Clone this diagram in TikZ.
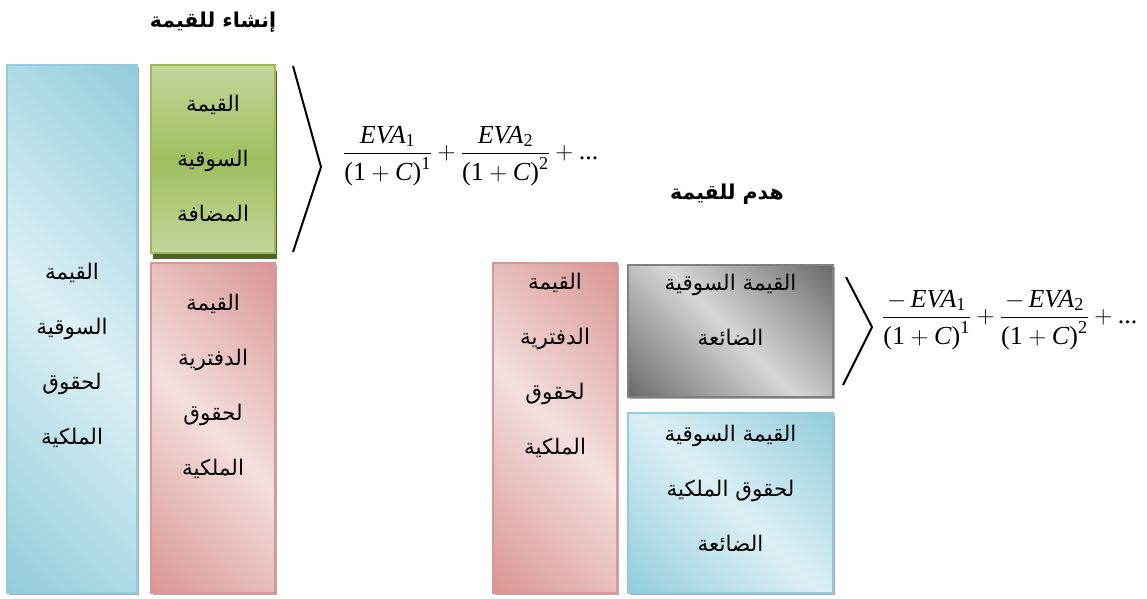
\documentclass[tikz,border=0pt]{standalone}
\usepackage{amsmath}
\usepackage{fontspec}
\setmainfont{Liberation Serif}
\newfontfamily\arabicfont[Script=Arabic]{DejaVu Sans}
\TeXXeTstate=1
\usetikzlibrary{shadows}

% palette
\definecolor{aquaL}{HTML}{DCEFF4}
\definecolor{aquaD}{HTML}{92CDDC}
\definecolor{aquaB}{HTML}{93CDDD}
\definecolor{roseL}{HTML}{F3DEDE}
\definecolor{roseD}{HTML}{D99694}
\definecolor{roseB}{HTML}{D99694}
\definecolor{greyL}{HTML}{D6D6D6}
\definecolor{greyD}{HTML}{6B6B6B}
\definecolor{greyB}{HTML}{808080}
\definecolor{leafL}{HTML}{C3D69B}
\definecolor{leafM}{HTML}{9FBE5E}
\definecolor{leafB}{HTML}{9BBB59}
\definecolor{leafS}{HTML}{4F6228}

% diagonal dark-light-dark fills
\pgfdeclarehorizontalshading{aquadiag}{100bp}{color(0bp)=(aquaD); color(15bp)=(aquaD); color(50bp)=(aquaL); color(85bp)=(aquaD); color(100bp)=(aquaD)}
\pgfdeclarehorizontalshading{rosediag}{100bp}{color(0bp)=(roseD); color(15bp)=(roseD); color(50bp)=(roseL); color(85bp)=(roseD); color(100bp)=(roseD)}
\pgfdeclarehorizontalshading{greydiag}{100bp}{color(0bp)=(greyD); color(15bp)=(greyD); color(50bp)=(greyL); color(85bp)=(greyD); color(100bp)=(greyD)}

\newcommand\artxt[1]{\beginR#1\endR}
\newcommand\evterm[2]{\dfrac{#1\text{\itshape EVA}_{\text{#2}}}{\text{(1}+\text{\itshape C\/\upshape)}^{\text{#2}}}}

\begin{document}
\begin{tikzpicture}[x=1pt,y=-1pt,
  panel/.style={rectangle, inner sep=0pt, line width=1.2pt,
    drop shadow={shadow xshift=2pt, shadow yshift=-2pt, fill=black!45, opacity=.7}},
  aquabox/.style={panel, draw=aquaB, shade, shading=aquadiag, shading angle=45},
  rosebox/.style={panel, draw=roseB, shade, shading=rosediag, shading angle=45},
  greybox/.style={panel, draw=greyB, shade, shading=greydiag, shading angle=45},
  leafbox/.style={rectangle, inner sep=0pt, line width=1.5pt, draw=leafB,
    top color=leafL, bottom color=leafL, middle color=leafM,
    drop shadow={shadow xshift=1.5pt, shadow yshift=-6pt, fill=leafS, opacity=1}},
  label/.style={align=center, text=black, font=\arabicfont\fontsize{21.5}{55}\selectfont},
  heading/.style={text=black, font=\arabicfont\bfseries\fontsize{20.5}{24}\selectfont},
  formula/.style={text=black, inner sep=0pt, font=\fontsize{26}{31}\selectfont},
  bracket/.style={draw=black, line width=2pt, line join=miter}
]
\useasboundingbox (0,0) rectangle (1147,598);

% headings
\node[heading] (creation) at (213,22) {\artxt{إنشاء للقيمة}};
\node[heading] (destruction) at (727,194) {\artxt{هدم للقيمة}};

% value creation column
\node[aquabox, minimum width=130pt, minimum height=528pt] (mvequity) at (72,329) {};
\node[leafbox, minimum width=124pt, minimum height=188pt] (mva) at (213,159) {};
\node[rosebox, minimum width=124pt, minimum height=330pt] (bvequity) at (213,428) {};

\node[label] (mvequity-t) at (72,355) {\artxt{القيمة}\\\artxt{السوقية}\\\artxt{لحقوق}\\\artxt{الملكية}};
\node[label] (mva-t) at (213,159) {\artxt{القيمة}\\\artxt{السوقية}\\\artxt{المضافة}};
\node[label] (bvequity-t) at (213,386) {\artxt{القيمة}\\\artxt{الدفترية}\\\artxt{لحقوق}\\\artxt{الملكية}};

% value destruction column
\node[rosebox, minimum width=124pt, minimum height=330pt] (bvequity2) at (555,428) {};
\node[greybox, minimum width=205pt, minimum height=132pt] (lostmv) at (730.5,331) {};
\node[aquabox, minimum width=205pt, minimum height=180pt] (lostmveq) at (730.5,503) {};

\node[label] (bvequity2-t) at (555,365) {\artxt{القيمة}\\\artxt{الدفترية}\\\artxt{لحقوق}\\\artxt{الملكية}};
\node[label] (lostmv-t) at (730.5,310) {\artxt{القيمة السوقية}\\\artxt{الضائعة}};
\node[label] (lostmveq-t) at (730.5,488) {\artxt{القيمة السوقية}\\\artxt{لحقوق الملكية}\\\artxt{الضائعة}};

% brackets
\coordinate (br1a) at (293,66);
\coordinate (br1b) at (321,167);
\coordinate (br1c) at (293,252);
\draw[bracket] (br1a) -- (br1b) -- (br1c);

\coordinate (br2a) at (846,277);
\coordinate (br2b) at (872,327);
\coordinate (br2c) at (843,385);
\draw[bracket] (br2a) -- (br2b) -- (br2c);

% discounted EVA sums
\node[formula, anchor=west] (pos) at (343,156) {$\evterm{}{1}+\evterm{}{2}+\text{...}$};
\node[formula, anchor=west] (neg) at (882,320) {$\evterm{-\,}{1}+\evterm{-\,}{2}+\text{...}$};
\end{tikzpicture}
\end{document}
